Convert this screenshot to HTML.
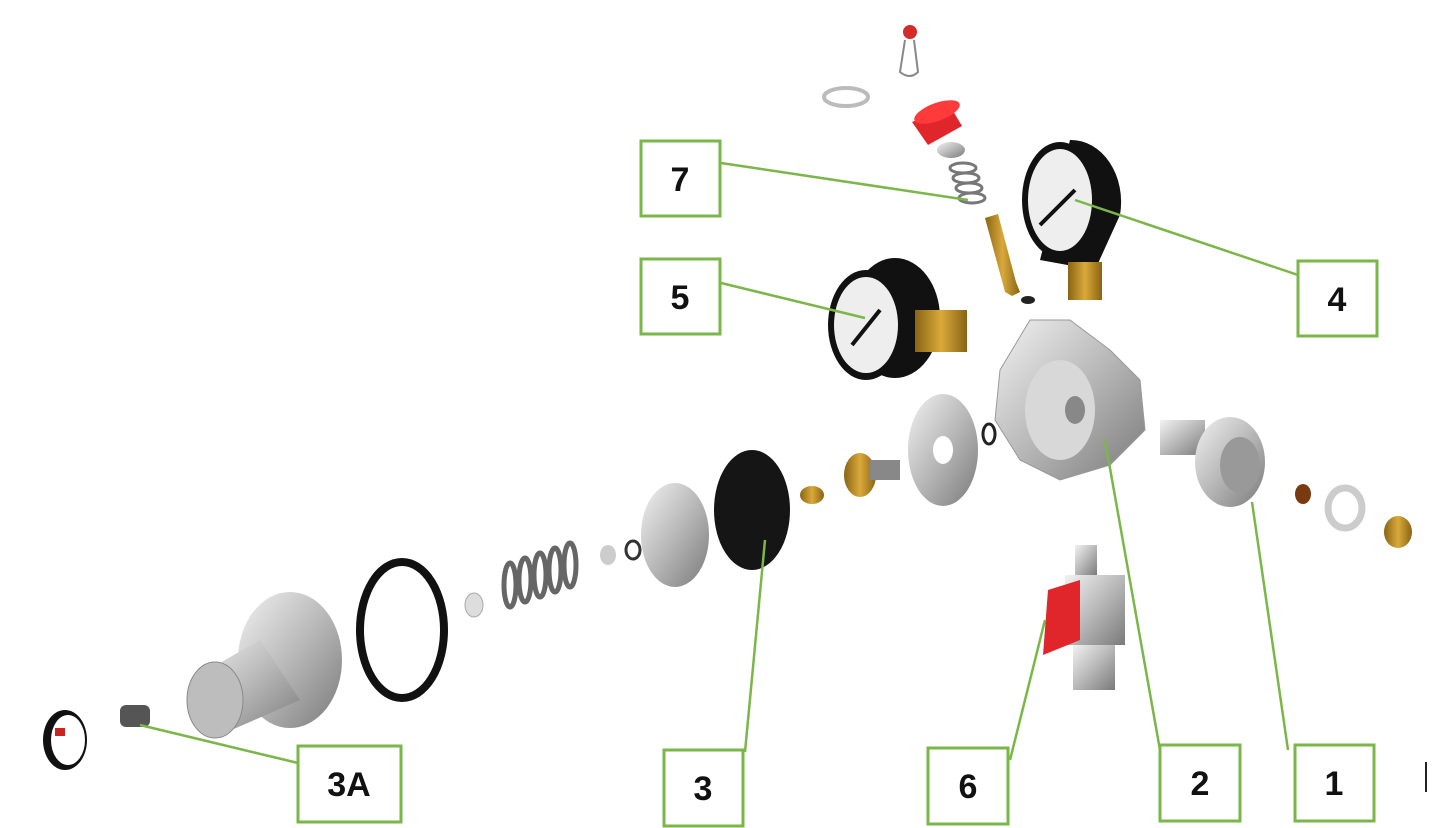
<!DOCTYPE html>
<html><head><meta charset="utf-8"><style>
html,body{margin:0;padding:0;background:#fff;}
svg{display:block}
text{font-family:"Liberation Sans",sans-serif;font-weight:bold;font-size:34px;fill:#111;text-anchor:middle}
</style></head><body>
<svg width="1448" height="828" viewBox="0 0 1448 828" xmlns="http://www.w3.org/2000/svg">
<defs>
<linearGradient id="met" x1="0" y1="0" x2="1" y2="1"><stop offset="0" stop-color="#f2f2f2"/><stop offset="0.5" stop-color="#b8b8b8"/><stop offset="1" stop-color="#7a7a7a"/></linearGradient>
<linearGradient id="brass" x1="0" y1="0" x2="1" y2="0"><stop offset="0" stop-color="#8a6414"/><stop offset="0.5" stop-color="#d9a93a"/><stop offset="1" stop-color="#8a6414"/></linearGradient>
</defs>
<circle cx="910" cy="32" r="7" fill="#d42a2a"/><path d="M905 40 L900 72 Q910 80 918 72 L914 40" fill="none" stroke="#888" stroke-width="2"/>
<ellipse cx="846" cy="97" rx="22" ry="9" fill="none" stroke="#bbb" stroke-width="4"/>
<path d="M912 122 L950 106 L962 126 L928 145 Z" fill="#e0252b"/><ellipse cx="937" cy="112" rx="24" ry="9" fill="#ff3a3a" transform="rotate(-20 937 112)"/>
<ellipse cx="951" cy="150" rx="14" ry="8" fill="url(#met)"/>
<g stroke="#777" stroke-width="3" fill="none"><ellipse cx="963" cy="168" rx="13" ry="5"/><ellipse cx="966" cy="178" rx="13" ry="5"/><ellipse cx="969" cy="188" rx="13" ry="5"/><ellipse cx="972" cy="198" rx="13" ry="5"/></g>
<path d="M985 218 L998 214 L1016 282 L1020 292 L1012 296 L1005 292 Z" fill="url(#brass)"/>
<ellipse cx="1028" cy="300" rx="7" ry="4" fill="#222"/>
<path d="M1070 140 A50 62 0 0 1 1120 215 L1095 270 L1040 260 Z" fill="#111"/>
<ellipse cx="1060" cy="200" rx="38" ry="58" fill="#111"/><ellipse cx="1060" cy="200" rx="32" ry="51" fill="#eee"/>
<line x1="1040" y1="225" x2="1075" y2="190" stroke="#111" stroke-width="4"/>
<rect x="1068" y="262" width="34" height="38" fill="url(#brass)"/>
<ellipse cx="895" cy="318" rx="45" ry="60" fill="#111"/><ellipse cx="866" cy="325" rx="38" ry="55" fill="#111"/><ellipse cx="866" cy="325" rx="32" ry="48" fill="#eee"/>
<line x1="852" y1="345" x2="880" y2="310" stroke="#111" stroke-width="4"/>
<rect x="915" y="310" width="52" height="42" fill="url(#brass)"/>
<path d="M1000 370 L1030 320 L1070 320 L1110 350 L1140 380 L1145 430 L1110 465 L1060 480 L1020 460 L995 420 Z" fill="url(#met)" stroke="#999"/>
<ellipse cx="1060" cy="410" rx="35" ry="50" fill="#d8d8d8"/><ellipse cx="1075" cy="410" rx="10" ry="14" fill="#888"/>
<ellipse cx="943" cy="450" rx="35" ry="56" fill="url(#met)"/><ellipse cx="943" cy="450" rx="10" ry="14" fill="#fff"/>
<ellipse cx="989" cy="434" rx="6" ry="10" fill="none" stroke="#222" stroke-width="3"/>
<rect x="1160" y="420" width="45" height="35" fill="url(#met)"/>
<ellipse cx="1230" cy="462" rx="35" ry="45" fill="url(#met)"/><ellipse cx="1240" cy="465" rx="20" ry="28" fill="#999"/>
<ellipse cx="1303" cy="494" rx="8" ry="10" fill="#7a3a10"/>
<ellipse cx="1345" cy="508" rx="17" ry="20" fill="none" stroke="#ccc" stroke-width="7"/>
<ellipse cx="1398" cy="532" rx="14" ry="16" fill="url(#brass)"/>
<ellipse cx="860" cy="475" rx="16" ry="22" fill="url(#brass)"/><rect x="870" y="460" width="30" height="20" fill="#888"/>
<ellipse cx="812" cy="495" rx="12" ry="9" fill="url(#brass)"/>
<ellipse cx="752" cy="510" rx="38" ry="60" fill="#151515"/>
<ellipse cx="675" cy="535" rx="34" ry="52" fill="url(#met)"/>
<ellipse cx="633" cy="550" rx="7" ry="9" fill="none" stroke="#333" stroke-width="3"/>
<ellipse cx="608" cy="555" rx="8" ry="10" fill="#ccc"/>
<g stroke="#666" stroke-width="5" fill="none"><ellipse cx="510" cy="585" rx="6" ry="22"/><ellipse cx="525" cy="580" rx="6" ry="22"/><ellipse cx="540" cy="575" rx="6" ry="22"/><ellipse cx="555" cy="570" rx="6" ry="22"/><ellipse cx="570" cy="565" rx="6" ry="22"/></g>
<ellipse cx="474" cy="605" rx="9" ry="12" fill="#ddd" stroke="#aaa"/>
<ellipse cx="402" cy="630" rx="42" ry="68" fill="none" stroke="#111" stroke-width="8"/>
<ellipse cx="290" cy="660" rx="52" ry="68" fill="url(#met)"/>
<path d="M190 680 L260 640 L300 700 L220 735 Z" fill="url(#met)"/><ellipse cx="215" cy="700" rx="28" ry="38" fill="#bdbdbd" stroke="#888"/>
<rect x="120" y="705" width="30" height="22" rx="6" fill="#555"/>
<ellipse cx="65" cy="740" rx="22" ry="30" fill="#111"/><ellipse cx="68" cy="740" rx="17" ry="25" fill="#fff"/><rect x="55" y="728" width="10" height="8" fill="#c22"/>
<rect x="1075" y="545" width="22" height="30" fill="url(#met)"/><rect x="1065" y="575" width="60" height="70" fill="url(#met)"/><rect x="1073" y="645" width="42" height="45" fill="url(#met)"/>
<path d="M1048 590 L1080 580 L1080 640 L1043 655 Z" fill="#e0252b"/>
<g stroke="#7ab648" stroke-width="2.5" fill="none">
<line x1="721" y1="163" x2="968" y2="200"/>
<line x1="721" y1="283" x2="865" y2="318"/>
<line x1="1298" y1="275" x2="1075" y2="200"/>
<line x1="298" y1="763" x2="140" y2="725"/>
<line x1="745" y1="752" x2="765" y2="540"/>
<line x1="1010" y1="760" x2="1045" y2="620"/>
<line x1="1160" y1="750" x2="1105" y2="440"/>
<line x1="1288" y1="750" x2="1252" y2="502"/>
</g>
<g stroke="#7ab648" stroke-width="3" fill="#fff">
<rect x="641" y="141" width="79" height="75"/>
<rect x="641" y="259" width="79" height="75"/>
<rect x="1298" y="261" width="79" height="75"/>
<rect x="298" y="746" width="103" height="76"/>
<rect x="664" y="750" width="79" height="76"/>
<rect x="928" y="748" width="80" height="76"/>
<rect x="1160" y="745" width="80" height="76"/>
<rect x="1295" y="745" width="79" height="76"/>
</g>
<text x="680" y="191">7</text>
<text x="680" y="309">5</text>
<text x="1337" y="311">4</text>
<text x="349" y="796">3A</text>
<text x="703" y="800">3</text>
<text x="968" y="798">6</text>
<text x="1200" y="795">2</text>
<text x="1334" y="795">1</text>
<line x1="1426" y1="762" x2="1426" y2="792" stroke="#222" stroke-width="2"/>
</svg>
</body></html>
